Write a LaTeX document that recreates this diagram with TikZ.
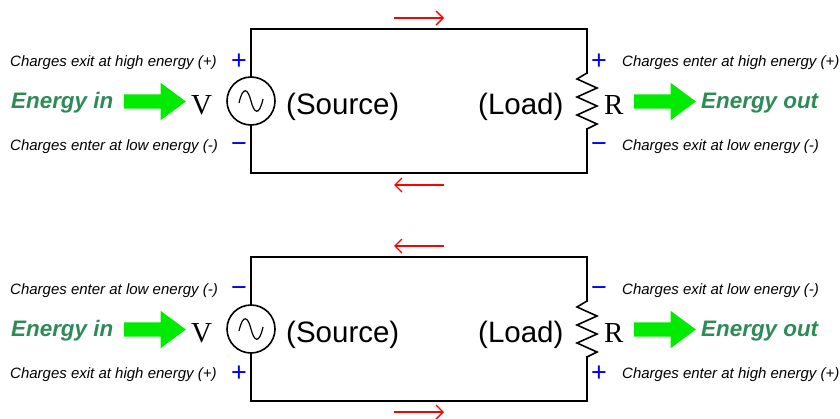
\documentclass[tikz,border=0pt]{standalone}
\usepackage{fontspec}
\setmainfont{Liberation Sans}
\newfontfamily\serifname{Liberation Serif}
\usetikzlibrary{positioning, calc, arrows.meta, shapes.arrows}
\definecolor{energygreen}{RGB}{46,139,87}
\definecolor{arrowgreen}{RGB}{0,235,0}

\begin{document}
\begin{tikzpicture}[x=1pt, y=-1pt,
		wire/.style={line width=1.6pt, line join=miter, line cap=rect},
		source/.style={draw, circle, line width=1.6pt, minimum size=48pt, inner sep=0pt},
		flow/.style={red, line width=1.4pt, arrows = {-{Straight Barb[length=7pt, width=14pt]}}},
		note/.style={font=\itshape\fontsize{15}{17}\selectfont, anchor=base west, inner sep=0pt},
		energy/.style={font=\bfseries\itshape\fontsize{22.4}{25}\selectfont, text=energygreen, anchor=base west, inner sep=0pt},
		part/.style={font=\fontsize{29.5}{32}\selectfont, anchor=base west, inner sep=0pt},
		letter/.style={font=\serifname\fontsize{29}{32}\selectfont, anchor=base west, inner sep=0pt},
		polarity/.style={font=\fontsize{27}{29}\selectfont, text=blue, inner sep=0pt, anchor=base},
		bigarrow/.style={single arrow, fill=arrowgreen, minimum width=37pt, minimum height=62pt, text height=14pt, inner xsep=0pt, inner ysep=0pt, single arrow head extend=11.5pt, single arrow tip angle=73, shape border uses incircle=false}]
	\useasboundingbox (0,0) rectangle (840,418);

	% upper circuit
	\node[source] (v1) at (251,101) {};
	\draw[line width=1.2pt] ($(v1)+(-12,2)$) .. controls ($(v1)+(-8,-16)$) and ($(v1)+(-3,-12)$) .. (v1.center) .. controls ($(v1)+(3,12)$) and ($(v1)+(8,16)$) .. ($(v1)+(12,-2)$);
	\coordinate (r1a) at (587,73);
	\coordinate (r1b) at (587,129);
	\draw[wire] (r1a) -- (577,79) -- (597,88) -- (577,97) -- (597,106) -- (577,115) -- (597,124) -- (r1b);
	\draw[wire] (v1) |- (r1a |- 0,29) -- (r1a);
	\draw[wire] (v1) |- (r1b |- 0,173) -- (r1b);

	\coordinate (f1a) at (394,18);
	\coordinate (f1b) at (444,18);
	\coordinate (f2a) at (444,185);
	\coordinate (f2b) at (394,185);
	\draw[flow] (f1a) -- (f1b);
	\draw[flow] (f2a) -- (f2b);

	\node[note] (n1) at (10,66) {Charges exit at high energy (+)};
	\node[note] (n2) at (10,150) {Charges enter at low energy (-)};
	\node[note] (n3) at (622,66) {Charges enter at high energy (+)};
	\node[note] (n4) at (622,150) {Charges exit at low energy (-)};
	\node[polarity] (p1) at (239,69) {+};
	\node[polarity] (p2) at (239,152) {−};
	\node[polarity] (p3) at (599,69) {+};
	\node[polarity] (p4) at (599,152) {−};

	\node[energy] (e1) at (11,108) {Energy in};
	\node[bigarrow] (a1) at (150,101.5) {};
	\node[letter] (l1) at (191,114) {V};
	\node[part] (s1) at (286,114) {(Source)};
	\node[part] (d1) at (478,114) {(Load)};
	\node[letter] (l2) at (604,114) {R};
	\node[bigarrow] (a2) at (660,101.5) {};
	\node[energy] (e2) at (701,108) {Energy out};

	% lower circuit
	\node[source] (v2) at (251,329) {};
	\draw[line width=1.2pt] ($(v2)+(-12,2)$) .. controls ($(v2)+(-8,-16)$) and ($(v2)+(-3,-12)$) .. (v2.center) .. controls ($(v2)+(3,12)$) and ($(v2)+(8,16)$) .. ($(v2)+(12,-2)$);
	\coordinate (r2a) at (587,301);
	\coordinate (r2b) at (587,357);
	\draw[wire] (r2a) -- (577,307) -- (597,316) -- (577,325) -- (597,334) -- (577,343) -- (597,352) -- (r2b);
	\draw[wire] (v2) |- (r2a |- 0,257) -- (r2a);
	\draw[wire] (v2) |- (r2b |- 0,401) -- (r2b);

	\coordinate (f3a) at (444,246);
	\coordinate (f3b) at (394,246);
	\coordinate (f4a) at (394,412);
	\coordinate (f4b) at (444,412);
	\draw[flow] (f3a) -- (f3b);
	\draw[flow] (f4a) -- (f4b);

	\node[note] (n5) at (10,294) {Charges enter at low energy (-)};
	\node[note] (n6) at (10,378) {Charges exit at high energy (+)};
	\node[note] (n7) at (622,294) {Charges exit at low energy (-)};
	\node[note] (n8) at (622,378) {Charges enter at high energy (+)};
	\node[polarity] (p5) at (239,296) {−};
	\node[polarity] (p6) at (239,381) {+};
	\node[polarity] (p7) at (599,296) {−};
	\node[polarity] (p8) at (599,381) {+};

	\node[energy] (e3) at (11,336) {Energy in};
	\node[bigarrow] (a3) at (150,329.5) {};
	\node[letter] (l3) at (191,342) {V};
	\node[part] (s2) at (286,342) {(Source)};
	\node[part] (d2) at (478,342) {(Load)};
	\node[letter] (l4) at (604,342) {R};
	\node[bigarrow] (a4) at (660,329.5) {};
	\node[energy] (e4) at (701,336) {Energy out};
\end{tikzpicture}
\end{document}
